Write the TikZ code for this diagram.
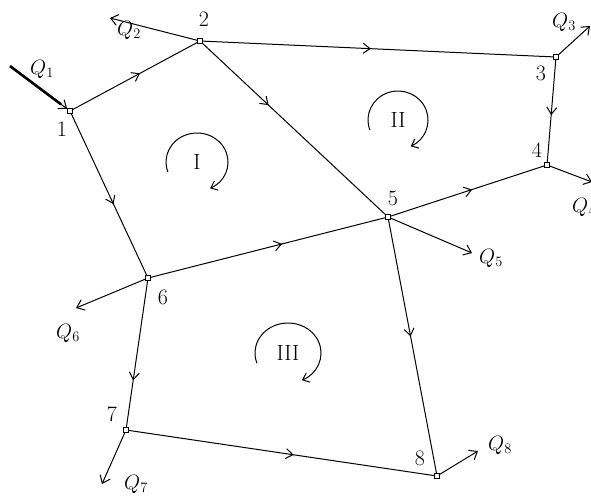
\documentclass[tikz,border=0pt]{standalone}
\usepackage{amsmath}
\usepackage{tikz}
\usetikzlibrary{
  arrows.meta,
  calc,
  decorations.markings
}

\begin{document}
\begin{tikzpicture}[
    x=1pt, y=-1pt,
    % Estilo para nos da rede
    junction/.style={
        rectangle,
        draw,
        fill=white,
        line width=0.7pt,
        minimum size=5pt,
        inner sep=0pt
    },
    % Estilo para numeros dos nos
    numlabel/.style={
        font=\fontsize{22}{24}\selectfont,
        inner sep=0pt
    },
    % Estilo para vazoes
    flowlabel/.style={
        font=\fontsize{21}{24}\selectfont,
        inner sep=0pt
    },
    % Estilo para trechos com seta no meio
    pipe/.style={
        line width=1pt,
        postaction={decorate},
        decoration={markings,
            mark=at position #1 with {\arrow{Straight Barb[length=7pt,width=10pt,line width=1pt]}}}
    },
    pipe/.default=0.5,
    % Estilo para setas de vazao
    outflow/.style={
        -{Straight Barb[length=7pt,width=11pt,line width=1pt]},
        line width=1pt
    },
    % Estilo para circulos dos aneis
    loop/.style={
        line width=1pt,
        -{Straight Barb[length=6pt,width=10pt,line width=1pt]}
    },
    loopname/.style={
        font=\fontsize{22}{24}\selectfont,
        inner sep=0pt
    }
]
\useasboundingbox (0,0) rectangle (591,496);

% ============================================================================
% Nos da rede
% ============================================================================

\node[junction] (j1) at (70,111) {};
\node[junction] (j2) at (200,41) {};
\node[junction] (j3) at (556,57) {};
\node[junction] (j4) at (547,165) {};
\node[junction] (j5) at (388,217) {};
\node[junction] (j6) at (148,278) {};
\node[junction] (j7) at (126,430) {};
\node[junction] (j8) at (437,476) {};

\node[numlabel] (n1) at (62,129) {1};
\node[numlabel] (n2) at (204,19) {2};
\node[numlabel] (n3) at (541,73) {3};
\node[numlabel] (n4) at (537,150) {4};
\node[numlabel] (n5) at (393,198) {5};
\node[numlabel] (n6) at (163,297) {6};
\node[numlabel] (n7) at (112,414) {7};
\node[numlabel] (n8) at (420,458) {8};

% ============================================================================
% Trechos
% ============================================================================

\draw[pipe=0.54] (j1) -- (j2);
\draw[pipe=0.48] (j2) -- (j3);
\draw[pipe=0.54] (j3) -- (j4);
\draw[pipe=0.36] (j2) -- (j5);
\draw[pipe=0.56] (j1) -- (j6);
\draw[pipe=0.56] (j6) -- (j5);
\draw[pipe=0.53] (j5) -- (j4);
\draw[pipe=0.46] (j5) -- (j8);
\draw[pipe=0.68] (j6) -- (j7);
\draw[pipe=0.54] (j7) -- (j8);

% ============================================================================
% Vazoes nos nos
% ============================================================================

\coordinate (q1) at (10,66);
\coordinate (q2) at (110,18);
\coordinate (q3) at (590,26);
\coordinate (q4) at (592,182);
\coordinate (q5) at (472,253);
\coordinate (q6) at (76,308);
\coordinate (q7) at (102,484);
\coordinate (q8) at (478,451);

\draw[line width=2.6pt] (q1) -- ($(q1)!0.85!(j1)$) coordinate (q1end);
\draw[outflow] (q1end) -- (j1);
\draw[outflow] (j2) -- (q2);
\draw[outflow] (j3) -- (q3);
\draw[outflow] (j4) -- (q4);
\draw[outflow] (j5) -- (q5);
\draw[outflow] (j6) -- (q6);
\draw[outflow] (j7) -- (q7);
\draw[outflow] (j8) -- (q8);

\node[flowlabel] (l1) at (42,69) {$Q_1$};
\node[flowlabel] (l2) at (129,30) {$Q_2$};
\node[flowlabel] (l3) at (564,22) {$Q_3$};
\node[flowlabel] (l4) at (584,207) {$Q_4$};
\node[flowlabel] (l5) at (491,258) {$Q_5$};
\node[flowlabel] (l6) at (68,333) {$Q_6$};
\node[flowlabel] (l7) at (136,484) {$Q_7$};
\node[flowlabel] (l8) at (500,445) {$Q_8$};

% ============================================================================
% Aneis
% ============================================================================

\node[loopname] (r1) at (197,162) {I};
\node[loopname] (r2) at (398,120) {II};
\node[loopname] (r3) at (288,353) {III};

\draw[loop] (r1.center) ++(160:31 and 29) arc[start angle=160, end angle=425, x radius=31, y radius=29];
\draw[loop] (r2.center) ++(160:30 and 29) arc[start angle=160, end angle=425, x radius=30, y radius=29];
\draw[loop] (r3.center) ++(160:33 and 30) arc[start angle=160, end angle=425, x radius=33, y radius=30];

\end{tikzpicture}
\end{document}
